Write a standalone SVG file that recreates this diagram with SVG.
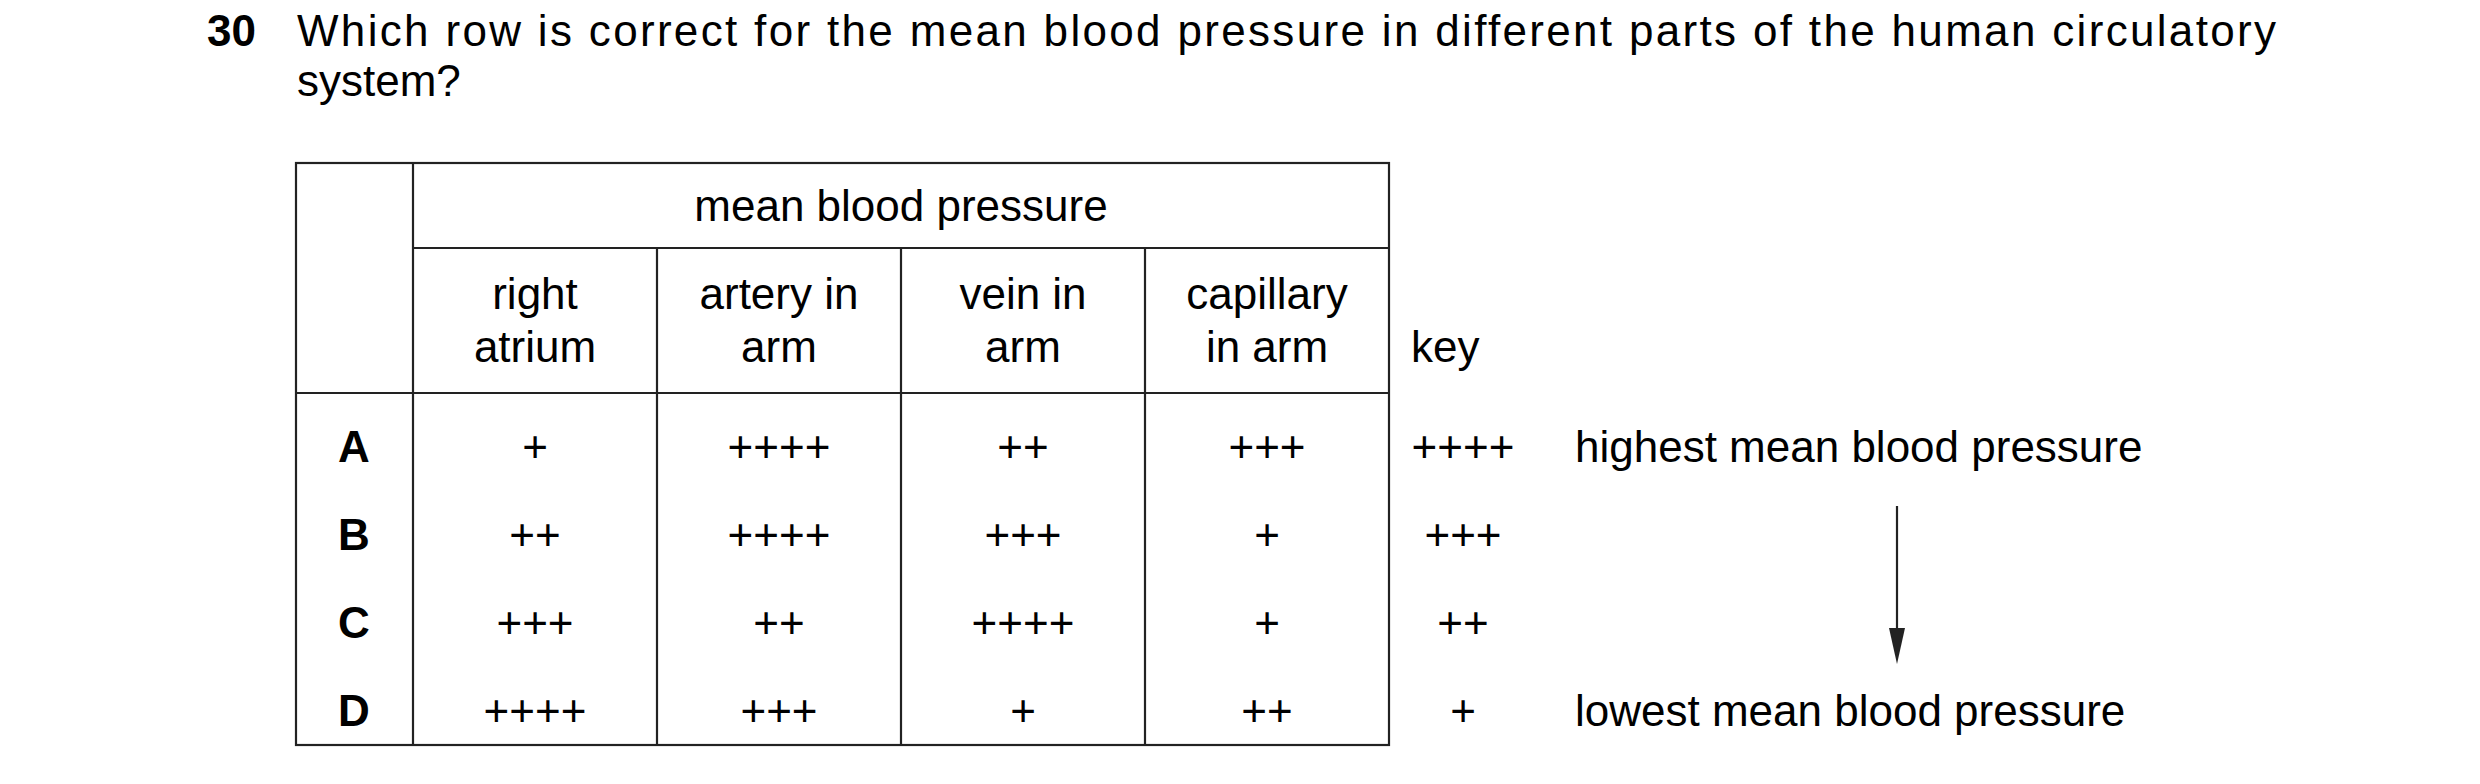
<svg xmlns="http://www.w3.org/2000/svg" width="2480" height="784" viewBox="0 0 2480 784">
<defs>
<style>
text{font-family:"Liberation Sans",Arial,sans-serif;font-size:44px;fill:#000}
.b{font-weight:bold}
.c{text-anchor:middle}
.ln{stroke:#222;stroke-width:2.2;fill:none}
</style>
</defs>
<rect width="2480" height="784" fill="#fff"/>
<g id="question">
<text class="b" x="207" y="46">30</text>
<text x="297" y="46" textLength="1979" lengthAdjust="spacing">Which row is correct for the mean blood pressure in different parts of the human circulatory</text>
<text x="297" y="96">system?</text>
</g>
<g id="table">
<rect class="ln" x="296" y="163" width="1093" height="582"/>
<line class="ln" x1="413" y1="163" x2="413" y2="745"/>
<line class="ln" x1="413" y1="248" x2="1389" y2="248"/>
<line class="ln" x1="296" y1="393" x2="1389" y2="393"/>
<line class="ln" x1="657" y1="248" x2="657" y2="745"/>
<line class="ln" x1="901" y1="248" x2="901" y2="745"/>
<line class="ln" x1="1145" y1="248" x2="1145" y2="745"/>
<text class="c" x="901" y="221">mean blood pressure</text>
<text class="c" x="535" y="309">right</text><text class="c" x="535" y="362">atrium</text>
<text class="c" x="779" y="309">artery in</text><text class="c" x="779" y="362">arm</text>
<text class="c" x="1023" y="309">vein in</text><text class="c" x="1023" y="362">arm</text>
<text class="c" x="1267" y="309">capillary</text><text class="c" x="1267" y="362">in arm</text>
<text class="b c" x="354" y="462">A</text><text class="c" x="535" y="462">+</text><text class="c" x="779" y="462">++++</text><text class="c" x="1023" y="462">++</text><text class="c" x="1267" y="462">+++</text>
<text class="b c" x="354" y="550">B</text><text class="c" x="535" y="550">++</text><text class="c" x="779" y="550">++++</text><text class="c" x="1023" y="550">+++</text><text class="c" x="1267" y="550">+</text>
<text class="b c" x="354" y="638">C</text><text class="c" x="535" y="638">+++</text><text class="c" x="779" y="638">++</text><text class="c" x="1023" y="638">++++</text><text class="c" x="1267" y="638">+</text>
<text class="b c" x="354" y="726">D</text><text class="c" x="535" y="726">++++</text><text class="c" x="779" y="726">+++</text><text class="c" x="1023" y="726">+</text><text class="c" x="1267" y="726">++</text>
</g>
<g id="key">
<text x="1411" y="362">key</text>
<text class="c" x="1463" y="462">++++</text>
<text class="c" x="1463" y="550">+++</text>
<text class="c" x="1463" y="638">++</text>
<text class="c" x="1463" y="726">+</text>
<text x="1575" y="462">highest mean blood pressure</text>
<text x="1575" y="726">lowest mean blood pressure</text>
</g>
<g id="connectors">
<line class="ln" x1="1897" y1="506" x2="1897" y2="632"/>
<polygon points="1889,628 1905,628 1897,664" fill="#222"/>
</g>
</svg>
